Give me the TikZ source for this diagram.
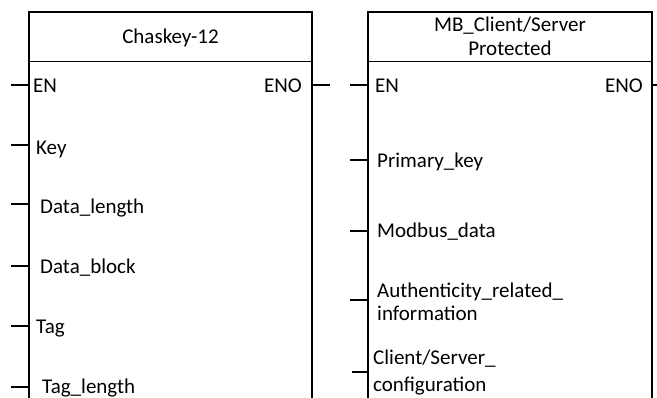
\documentclass[tikz,border=0pt]{standalone}
\usepackage{fontspec}
\setmainfont{Carlito}
\begin{document}
\begin{tikzpicture}[x=1pt,y=-1pt,
  frame/.style={line width=1.8pt},
  sep/.style={line width=0.9pt},
  stub/.style={line width=1.8pt},
  pin/.style={inner sep=0pt,anchor=base west,font=\fontsize{21}{25}\selectfont},
  pout/.style={inner sep=0pt,anchor=base east,font=\fontsize{21}{25}\selectfont},
  title/.style={inner sep=0pt,anchor=base,font=\fontsize{21}{25}\selectfont}]
\useasboundingbox (0,0) rectangle (657,397);
\clip (0,0) rectangle (657,397);

% ---- Chaskey-12 block ----
\draw[frame] (29,405) -- (29,12) -- (312,12) -- (312,405);
\draw[sep] (29,61) -- (312,61);
\node[title] (ctitle) at (170.5,43) {Chaskey-12};
\node[pin] (cen)  at (33,92)  {EN};
\node[pout] (ceno) at (302,92) {ENO};
\node[pin] (ckey) at (36,154) {Key};
\node[pin] (cdl)  at (40,213) {Data\_length};
\node[pin] (cdb)  at (40,273) {Data\_block};
\node[pin] (ctag) at (36,333) {Tag};
\node[pin] (ctl)  at (42,393) {Tag\_length};
\foreach \n/\y in {en/85,key/145,dl/204,db/266,tag/326,tl/387}{
  \coordinate (cw\n) at (11,\y);
  \coordinate (cb\n) at (29,\y);
  \draw[stub] (cw\n) -- (cb\n);
}
\coordinate (cbeno) at (312,85);
\coordinate (ceeno) at (330,85);
\draw[stub] (cbeno) -- (ceeno);

% ---- MB_Client/Server Protected block ----
\draw[frame] (368,405) -- (368,12) -- (652,12) -- (652,405);
\draw[sep] (368,61) -- (652,61);
\node[title] (mtitle1) at (510,31) {MB\_Client/Server};
\node[title] (mtitle2) at (510,55) {Protected};
\node[pin] (men)  at (375,92)  {EN};
\node[pout] (meno) at (643,92) {ENO};
\node[pin] (mpk)  at (377,167) {Primary\_key};
\node[pin] (mmd)  at (377,237) {Modbus\_data};
\node[pin] (mau1) at (377,297) {Authenticity\_related\_};
\node[pin] (mau2) at (377,320) {information};
\node[pin] (mcs1) at (373,364) {Client/Server\_};
\node[pin] (mcs2) at (373,391) {configuration};
\foreach \n/\y/\x in {en/85/350,pk/160/350,md/231/350,au/300/350,cs/372/352}{
  \coordinate (mw\n) at (\x,\y);
  \coordinate (mb\n) at (368,\y);
  \draw[stub] (mw\n) -- (mb\n);
}
\coordinate (mbeno) at (652,85);
\coordinate (meeno) at (660,85);
\draw[stub] (mbeno) -- (meeno);
\end{tikzpicture}
\end{document}
